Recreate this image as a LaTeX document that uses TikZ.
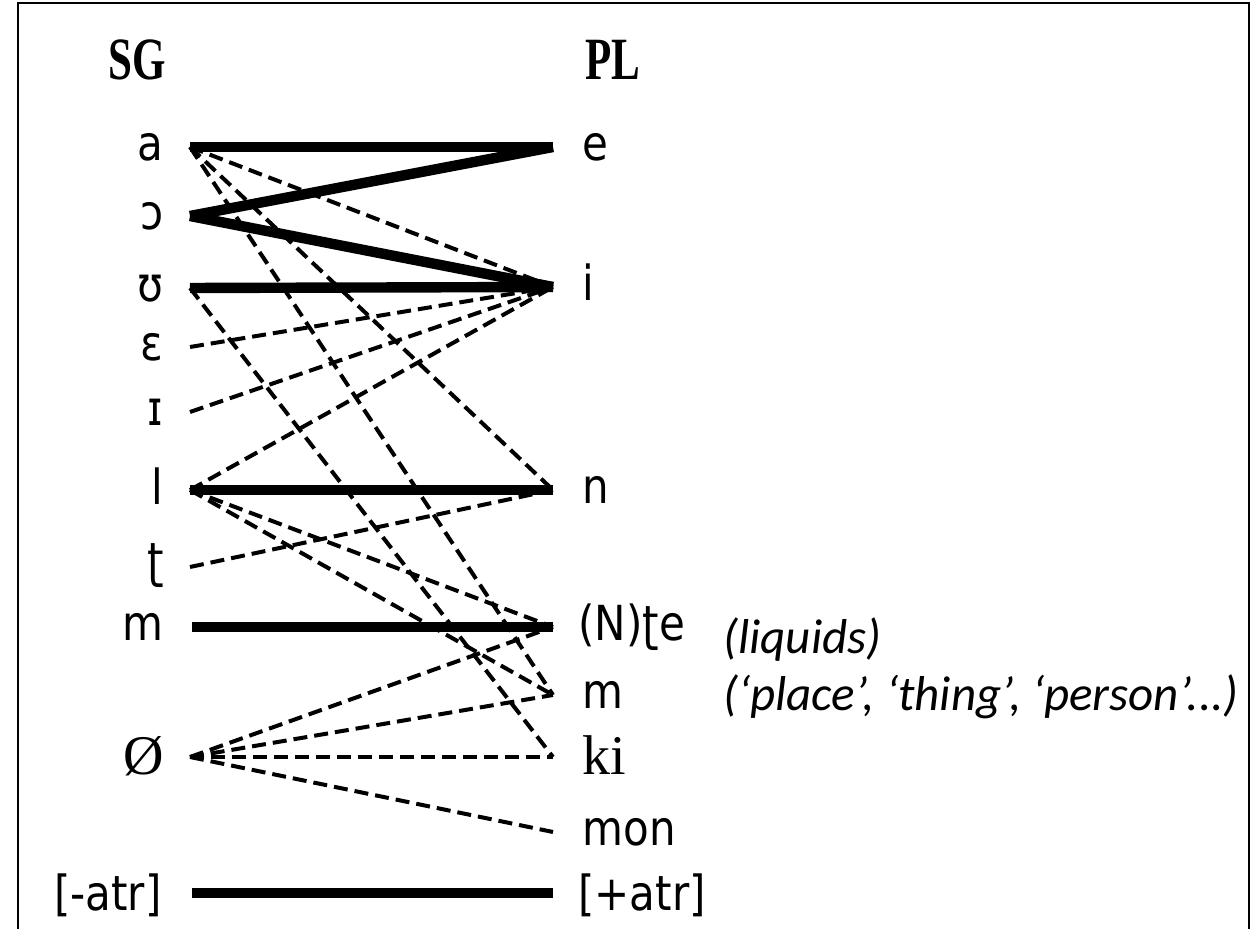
\documentclass[tikz,border=0pt]{standalone}
\usepackage{fontspec}
\usepackage{graphicx}
\newfontfamily\ipafont{DejaVu Sans}
\newfontfamily\serffont{Liberation Serif}
\newfontfamily\notefont{Carlito}
\newcommand\talltext[1]{\scalebox{1}[1.15]{#1}}
\newcommand\headtext[1]{\scalebox{0.86}[1.2]{#1}}
\begin{document}
\begin{tikzpicture}[x=0.5pt,y=-0.5pt,
  lbl/.style={inner sep=0pt, font=\ipafont\fontsize{21}{25}\selectfont},
  slbl/.style={inner sep=0pt, font=\serffont\fontsize{28}{32}\selectfont},
  head/.style={inner sep=0pt, font=\serffont\bfseries\fontsize{25}{28}\selectfont},
  note/.style={inner sep=0pt, anchor=base west, font=\notefont\itshape\fontsize{24.5}{28}\selectfont},
  solidlink/.style={line width=5.2pt, line cap=butt},
  dashlink/.style={line width=2pt, dash pattern=on 7pt off 3.5pt}]
\useasboundingbox (0,0) rectangle (1255,929);
\draw[line width=1pt] (17.5,929) -- (17.5,3.5) -- (1249,3.5) -- (1249,929);
% headers
\node[head, anchor=base east] (sg) at (166,80) {\headtext{SG}};
\node[head, anchor=base west] (pl) at (585,80) {\headtext{PL}};
% left labels
\node[lbl, anchor=base east] (ta) at (164,161) {\talltext{a}};
\node[lbl, anchor=base east] (to) at (164,230) {\talltext{ɔ}};
\node[lbl, anchor=base east] (tu) at (164,302) {\talltext{ʊ}};
\node[lbl, anchor=base east] (te) at (164,361) {\talltext{ɛ}};
\node[lbl, anchor=base east] (ti) at (164,426) {\talltext{ɪ}};
\node[lbl, anchor=base east] (tl) at (164,505) {\talltext{l}};
\node[lbl, anchor=base east] (tt) at (164,578) {\talltext{ʈ}};
\node[lbl, anchor=base east] (tm) at (164,641) {\talltext{m}};
\node[slbl, anchor=base east] (tz) at (164,775) {Ø};
\node[lbl, anchor=base east] (tx) at (162,911) {\talltext{[-atr]}};
% right labels
\node[lbl, anchor=base west] (ue) at (582,161) {\talltext{e}};
\node[lbl, anchor=base west] (ui) at (582,301) {\talltext{i}};
\node[lbl, anchor=base west] (un) at (582,504) {\talltext{n}};
\node[lbl, anchor=base west] (uN) at (578,641) {\talltext{(N)ʈe}};
\node[lbl, anchor=base west] (um) at (582,709) {\talltext{m}};
\node[slbl, anchor=base west] (uk) at (582,775) {ki};
\node[lbl, anchor=base west] (umon) at (582,846) {\talltext{mon}};
\node[lbl, anchor=base west] (ux) at (578,911) {\talltext{[+atr]}};
% notes
\node[note] (n1) at (723,654) {(liquids)};
\node[note] (n2) at (723,711) {(‘place’, ‘thing’, ‘person’...)};
% end points
\coordinate (la) at (190,147);
\coordinate (lo) at (190,216);
\coordinate (lu) at (190,288);
\coordinate (le) at (190,347);
\coordinate (li) at (190,412);
\coordinate (ll) at (190,490);
\coordinate (lt) at (190,567);
\coordinate (lm) at (192,627);
\coordinate (lz) at (190,757);
\coordinate (lx) at (192,893);
\coordinate (re) at (553,147);
\coordinate (ri) at (553,287);
\coordinate (rn) at (553,490);
\coordinate (rN) at (553,627);
\coordinate (rm) at (553,695);
\coordinate (rk) at (553,757);
\coordinate (rmon) at (553,832);
\coordinate (rx) at (553,893);
% dashed links
\draw[dashlink] (la) -- (ri);
\draw[dashlink] (la) -- (rn);
\draw[dashlink] (la) -- (rm);
\draw[dashlink] (lu) -- (rk);
\draw[dashlink] (le) -- (ri);
\draw[dashlink] (li) -- (ri);
\draw[dashlink] (ll) -- (ri);
\draw[dashlink] (ll) -- (rN);
\draw[dashlink] (ll) -- (rm);
\draw[dashlink] (lt) -- (rn);
\draw[dashlink] (lz) -- (rN);
\draw[dashlink] (lz) -- (rm);
\draw[dashlink] (lz) -- (rk);
\draw[dashlink] (lz) -- (rmon);
% solid links
\draw[solidlink] (la) -- (re);
\draw[solidlink] (lo) -- (re);
\draw[solidlink] (lo) -- (ri);
\draw[solidlink] (lu) -- (ri);
\draw[solidlink] (ll) -- (rn);
\draw[solidlink] (lm) -- (rN);
\draw[solidlink] (lx) -- (rx);
\end{tikzpicture}
\end{document}
